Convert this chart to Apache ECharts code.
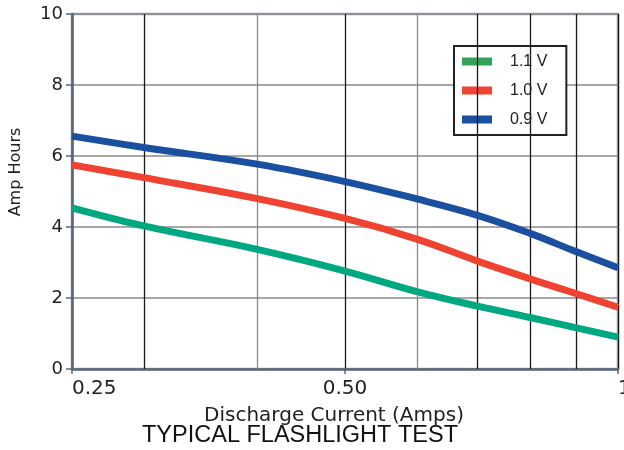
<!DOCTYPE html>
<html>
<head>
<meta charset="utf-8">
<script src="https://cdn.jsdelivr.net/npm/echarts@6/dist/echarts.min.js"></script>
<style>html,body{margin:0;padding:0;background:#fff}#c{width:624px;height:450px}</style>
</head>
<body>
<div id="c"></div>
<script>
var xValues = [0.25, 0.3, 0.4, 0.5, 0.6, 0.7, 0.8, 0.9, 1.0];
var v11 = [4.54, 4.03, 3.37, 2.76, 2.18, 1.77, 1.45, 1.16, 0.90];
var v10 = [5.75, 5.39, 4.80, 4.24, 3.66, 3.04, 2.54, 2.12, 1.74];
var v09 = [6.56, 6.24, 5.77, 5.28, 4.79, 4.33, 3.82, 3.30, 2.85];
var seriesNames = ['1.1 V', '1.0 V', '0.9 V'];
var xTickValues = [0.25, 0.5, 1];
var xTickLabels = ['0.25', '0.50', '1'];
var minorGridBlack = [0.3, 0.7, 0.8, 0.9];
var minorGridGrey = [0.4, 0.6];

function pairs(ys) { return xValues.map(function (x, i) { return [x, ys[i]]; }); }

var lineColors = ['#00a882', '#ef4230', '#1b4fa0'];
var legendColors = ['#33a457', '#ef4433', '#1b4fa0'];

var chart = echarts.init(document.getElementById('c'), null, { renderer: 'canvas' });

function mkLine(vals, color) {
  return {
    type: 'line', data: [], silent: true, z: 1,
    markLine: {
      silent: true, symbol: ['none', 'none'], animation: false,
      label: { show: false },
      lineStyle: { color: color, width: 1.3, type: 'solid' },
      emphasis: { disabled: true },
      data: vals.map(function (v) { return { xAxis: v }; })
    }
  };
}

var series = [mkLine(minorGridBlack, '#1a1a1a'), mkLine(minorGridGrey, '#8a8a8a')];
[v11, v10, v09].forEach(function (ys, i) {
  series.push({
    name: seriesNames[i], type: 'line', smooth: 0.4, showSymbol: false, z: 5,
    data: pairs(ys),
    lineStyle: { color: lineColors[i], width: 7, cap: 'butt' },
    itemStyle: { color: lineColors[i] }
  });
});

chart.setOption({
  animation: false,
  title: {
    text: 'TYPICAL FLASHLIGHT TEST', left: 142, top: 424, padding: 0,
    textStyle: { fontFamily: 'Liberation Sans', fontSize: 23.5, fontWeight: 'normal', color: '#111' }
  },
  grid: { left: 72, right: 6, top: 14, bottom: 81, show: true, borderColor: '#9aa6b2', borderWidth: 2.5, backgroundColor: 'transparent', outerBoundsMode: 'none', containLabel: false },
  legend: {
    left: 454, top: 46, orient: 'vertical',
    padding: [7, 19, 7, 8],
    backgroundColor: '#fff', borderColor: '#222', borderWidth: 2, borderRadius: 0,
    itemWidth: 30, itemHeight: 8, itemGap: 12, icon: 'rect',
    textStyle: { fontFamily: 'Liberation Sans', fontSize: 16, color: '#222', padding: [0, 0, 0, 13], lineHeight: 17 },
    data: seriesNames.map(function (n, i) { return { name: n, itemStyle: { color: legendColors[i] } }; })
  },
  graphic: [{
    type: 'text', x: 8, y: 172, rotation: Math.PI / 2,
    style: { text: 'Amp Hours', fontFamily: 'DejaVu Sans', fontSize: 16, fill: '#222', align: 'center', verticalAlign: 'top' }
  }],
  xAxis: {
    type: 'log', logBase: 2, min: 0.25, max: 1,
    name: 'Discharge Current (Amps)', nameLocation: 'middle', nameGap: 37,
    nameTextStyle: { fontFamily: 'DejaVu Sans', fontSize: 20, color: '#222', padding: [0, 22, 0, 0] },
    axisLine: { show: true, lineStyle: { color: '#5a6878', width: 2.5 } },
    axisTick: { show: true, length: 5, lineStyle: { color: '#5a6878', width: 1.5 } },
    axisLabel: {
      margin: 10, fontFamily: 'DejaVu Sans', fontSize: 20, color: '#222', alignMinLabel: 'left', alignMaxLabel: 'left',
      hideOverlap: false,
      formatter: function (v) {
        for (var i = 0; i < xTickValues.length; i++) { if (Math.abs(v - xTickValues[i]) < 1e-9) return xTickLabels[i]; }
        return '';
      }
    },
    splitLine: { show: true, lineStyle: { color: '#1a1a1a', width: 1.3 } },
    minorTick: { show: false }, minorSplitLine: { show: false }
  },
  yAxis: {
    type: 'value', min: 0, max: 10, interval: 2,
    axisLine: { show: true, lineStyle: { color: '#5a6878', width: 2.5 } },
    axisTick: { show: true, length: 6, lineStyle: { color: '#5a6878', width: 1.5 } },
    axisLabel: { margin: 9, fontFamily: 'DejaVu Sans', fontSize: 18, color: '#222' },
    splitLine: { show: true, lineStyle: { color: '#8a8a8a', width: 1.5 } }
  },
  series: series
});
</script>
</body>
</html>
